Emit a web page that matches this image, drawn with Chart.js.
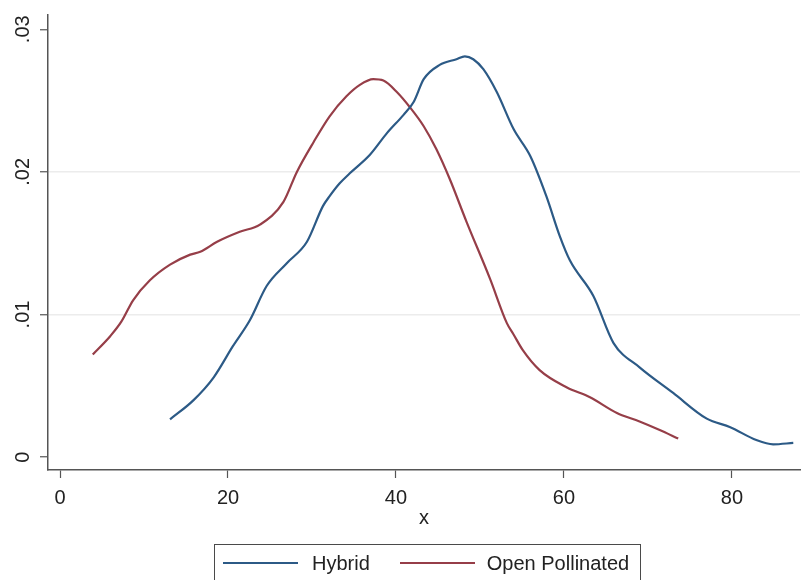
<!DOCTYPE html>
<html>
<head>
<meta charset="utf-8">
<script src="https://cdn.jsdelivr.net/npm/chart.js@4"></script>
<style>
  body { margin: 0; background: #fff; }
  #wrap { position: relative; width: 804px; height: 580px; overflow: hidden; }
  #legend {
    position: absolute; left: 214px; top: 544px; width: 427px; height: 40px;
    border: 1px solid #4a4a4a; display: flex; align-items: center;
    font-family: "Liberation Sans", Arial, sans-serif; font-size: 20px; color: #222;
    box-sizing: border-box; padding-bottom: 2px;
  }
  #legend .ln { display: inline-block; width: 75px; height: 0; border-top: 2px solid; }
</style>
</head>
<body>
<div id="wrap">
  <canvas id="c" width="804" height="580"></canvas>
  <div id="legend"></div>
</div>
<script>
// kernel density curves
const hybridX = [13.1, 15.9, 18.3, 20.6, 22.6, 24.6, 27.0, 29.4, 31.3, 32.1, 33.3, 34.5, 36.9, 38.9, 40.9, 42.1,
                 43.3, 45.2, 47.2, 48.2, 49.2, 50.4, 52.0, 54.0, 56.0, 57.9, 59.5, 60.7, 63.5, 65.9, 69.0, 73.0, 77.0,
                 79.8, 82.9, 84.9, 87.3];
const hybridY = [.00265, .0040, .0056, .0078, .0096, .0120, .0136, .0151, .0176, .0183, .0192, .0199, .0212, .0227, .0240, .0249,
                 .0265, .0275, .0279, .0281, .0279, .0272, .0256, .0230, .0211, .0183, .0155, .0138, .0113, .0080, .0063, .0045, .0027,
                 .0021, .0012, .0009, .0010];
const openX = [3.9, 6.0, 7.3, 8.7, 10.7, 13.1, 15.5, 16.7, 18.7, 21.4, 23.8, 26.6, 28.2, 30.2, 32.1, 34.1, 35.7,
               37.3, 38.5, 40.1, 41.7, 43.3, 44.8, 46.4, 48.4, 51.2, 53.2, 54.0, 55.1, 57.1, 60.3, 63.1,
               66.3, 69.0, 71.4, 73.6];
const openY = [.0072, .0085, .0095, .0110, .0124, .0135, .0142, .0144, .0151, .0158, .0163, .0179, .0200, .0221, .0239, .0253, .0261,
               .0265, .0264, .0256, .0245, .0232, .0216, .0195, .0165, .0125, .0094, .0086, .0075, .0061, .0049, .0042,
               .0031, .0025, .0019, .0013];

const xTicks = [0, 20, 40, 60, 80];
const yTicks = [0, .01, .02, .03];
const yTickLabels = ['0', '.01', '.02', '.03'];

const seriesNames = ['Hybrid', 'Open Pollinated'];
const seriesColors = ['#2c5a86', '#963e48'];

const FONT = '"Liberation Sans", Arial, sans-serif';

const pts = (xs, ys) => xs.map((x, i) => ({ x: x, y: ys[i] }));

// y labels are vertical in the original, so draw them by hand
const yLabels = {
  id: 'yLabels',
  afterDraw(chart) {
    const ctx = chart.ctx, y = chart.scales.y;
    ctx.save();
    ctx.font = '20px ' + FONT;
    ctx.fillStyle = '#222';
    ctx.textAlign = 'center';
    ctx.textBaseline = 'middle';
    yTicks.forEach((v, i) => {
      ctx.save();
      ctx.translate(23, y.getPixelForValue(v));
      ctx.rotate(-Math.PI / 2);
      ctx.fillText(yTickLabels[i], 0, 0);
      ctx.restore();
    });
    ctx.restore();
  }
};

const chart = new Chart(document.getElementById('c'), {
  type: 'line',
  data: {
    datasets: [
      { label: seriesNames[0], data: pts(hybridX, hybridY), borderColor: seriesColors[0], borderWidth: 2.2, pointRadius: 0, cubicInterpolationMode: 'monotone' },
      { label: seriesNames[1], data: pts(openX, openY), borderColor: seriesColors[1], borderWidth: 2.2, pointRadius: 0, cubicInterpolationMode: 'monotone' }
    ]
  },
  options: {
    responsive: false,
    animation: false,
    layout: { padding: { top: 15, right: 4, bottom: 50, left: 0 } },
    plugins: { legend: { display: false }, tooltip: { enabled: false } },
    scales: {
      x: {
        type: 'linear', min: -1.43, max: 88.1,
        afterBuildTicks: s => { s.ticks = xTicks.map(v => ({ value: v })); },
        afterFit: s => { s.height = 60; },
        grid: { color: 'rgba(0,0,0,0)', tickColor: '#555', tickLength: 8, tickWidth: 1.2 },
        border: { color: '#555', width: 1.5 },
        ticks: { color: '#222', font: { family: FONT, size: 20 }, padding: 8, maxRotation: 0 },
        title: { display: true, text: 'x', color: '#222', font: { family: FONT, size: 20 }, padding: 0 }
      },
      y: {
        min: -0.0009, max: 0.031,
        afterBuildTicks: s => { s.ticks = yTicks.map(v => ({ value: v })); },
        afterFit: s => { s.width = 48; },
        grid: {
          color: c => (c.tick && (c.tick.value === .01 || c.tick.value === .02)) ? '#ececec' : 'rgba(0,0,0,0)',
          lineWidth: 1.5, tickColor: '#555', tickLength: 8, tickWidth: 1.2
        },
        border: { color: '#555', width: 1.5 },
        ticks: { display: false }
      }
    }
  },
  plugins: [yLabels]
});

// legend box built from the datasets
const leg = document.getElementById('legend');
chart.data.datasets.forEach((d, i) => {
  const ln = document.createElement('span');
  ln.className = 'ln';
  ln.style.borderColor = d.borderColor;
  ln.style.marginLeft = i === 0 ? '8px' : '30px';
  const tx = document.createElement('span');
  tx.textContent = d.label;
  tx.style.marginLeft = i === 0 ? '14px' : '12px';
  leg.appendChild(ln);
  leg.appendChild(tx);
});
</script>
</body>
</html>
